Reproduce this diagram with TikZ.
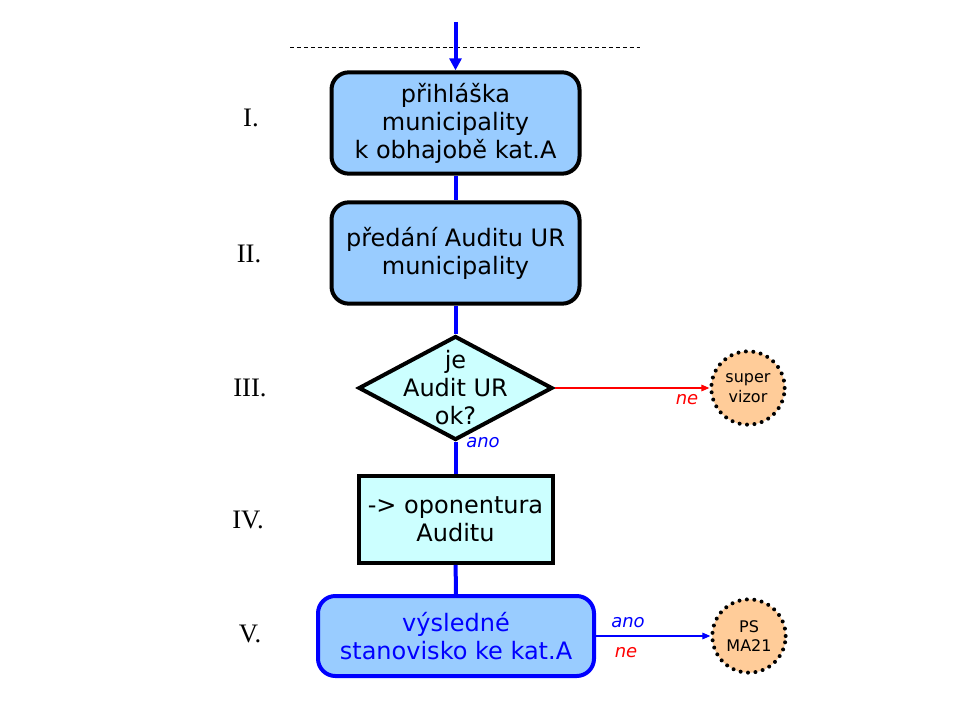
\documentclass[tikz,border=0pt]{standalone}
\usepackage{fontspec}
\setmainfont{DejaVu Sans}
\newfontfamily\romfont{Liberation Serif}
\usetikzlibrary{shapes.geometric,arrows.meta}
\definecolor{boxblue}{HTML}{99CCFF}
\definecolor{boxcyan}{HTML}{CCFFFF}
\definecolor{peach}{HTML}{FFCC99}
\definecolor{pureblue}{HTML}{0000FF}

\begin{document}
\begin{tikzpicture}[x=0.75pt,y=-0.75pt,
		stepbox/.style={draw,line width=3pt,rounded corners=13pt,fill=boxblue,align=center,
			minimum width=186pt,minimum height=76pt,font=\fontsize{18}{21}\selectfont},
		checkbox/.style={draw,line width=3pt,fill=boxcyan,align=center,
			minimum width=145.5pt,minimum height=65pt,font=\fontsize{18}{21}\selectfont},
		decision/.style={draw,diamond,line width=3pt,fill=boxcyan,inner sep=0pt,
			minimum width=145.5pt,minimum height=78pt},
		dotcircle/.style={circle,fill=peach,draw,line width=3pt,line cap=round,
			dash pattern=on 0pt off 5.6pt,minimum size=55pt,inner sep=0pt,align=center,
			font=\fontsize{12}{14.5}\selectfont},
		numlabel/.style={font=\romfont\fontsize{20}{24}\selectfont},
		flow/.style={pureblue,line width=3pt},
		yes/.style={text=pureblue,font=\itshape\fontsize{13.5}{15}\selectfont},
		no/.style={text=red,font=\itshape\fontsize{13.5}{15}\selectfont}]
		\useasboundingbox (0,0) rectangle (960,720);
		% horizontal line at top
		\draw[dash pattern=on 3pt off 2.2pt,line width=0.6pt] (290,47) -- (640,47);
		\coordinate (start) at (455.5,22);
		% main steps
		\node[stepbox] (prihlaska) at (455.5,123) {p\v{r}ihl\'a\v{s}ka\\ municipality\\k obhajob\v{e} kat.A};
		\node[stepbox] (predani) at (455.5,253) {p\v{r}ed\'an\'i Auditu UR\\municipality};
		\node[decision,label={[font=\fontsize{18}{21}\selectfont,align=center]center:je\\Audit UR\\ok?}] (audit) at (455.5,388) {};
		\node[checkbox] (oponentura) at (455.5,519.5) {-> oponentura\\Auditu};
		\node[stepbox,draw=pureblue,text=pureblue,minimum width=207pt,minimum height=60pt] (stanovisko) at (456,636)
			{v\'ysledn\'e\\stanovisko ke kat.A};
		% side nodes
		\node[dotcircle] (supervizor) at (748,388) {super\\vizor};
		\node[dotcircle] (psma) at (749,636) {PS\\MA21};
		% numbering
		\node[numlabel] (n1) at (251,118) {I.};
		\node[numlabel] (n2) at (249,254) {II.};
		\node[numlabel] (n3) at (250,388) {III.};
		\node[numlabel] (n4) at (248,520) {IV.};
		\node[numlabel] (n5) at (250,634) {V.};
		% connectors
		\draw[flow,-{Triangle[length=9pt,width=9pt]}] (start) -- (prihlaska.north);
		\draw[flow] (prihlaska) -- (predani);
		\draw[flow] (predani) -- (audit);
		\draw[flow] (audit) -- (oponentura);
		\draw[flow] (oponentura) -- (stanovisko);
		\draw[red,line width=0.8pt,-{Triangle[length=6pt,width=5pt]}] (audit.east) -- (supervizor.west);
		\draw[pureblue,line width=0.8pt,-{Triangle[length=6pt,width=5pt]}] (stanovisko.east) -- (psma.west);
		% labels
		\node[yes] (ano1) at (483,443) {ano};
		\node[no] (ne1) at (687,400) {ne};
		\node[yes] (ano2) at (628,623) {ano};
		\node[no] (ne2) at (626,653) {ne};
	\end{tikzpicture}
\end{document}
